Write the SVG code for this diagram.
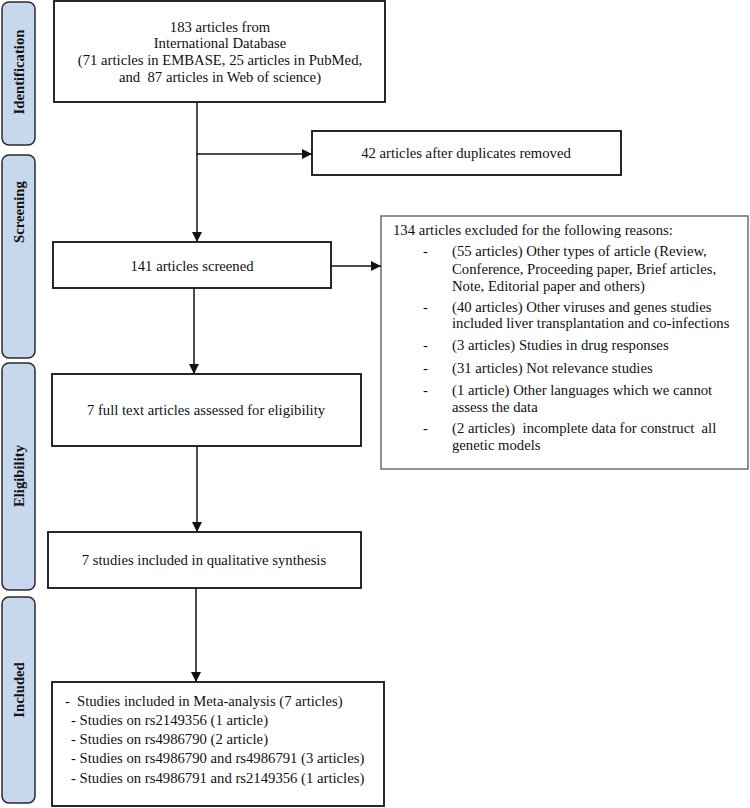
<svg xmlns="http://www.w3.org/2000/svg" width="750" height="808" viewBox="0 0 750 808">
<defs>
<style>
text{font-family:"Liberation Serif","Times New Roman",serif;font-size:14.7px;fill:#111}
.side rect{fill:#c7d7ed;stroke:#2a2a2a;stroke-width:1.5}
.side text{font-weight:bold;text-anchor:middle;dominant-baseline:central}
.box{fill:#fff;stroke:#111;stroke-width:1.8}
.gbox{fill:#fff;stroke:#555;stroke-width:1.3}
.c{text-anchor:middle}
#connectors line{stroke:#111;stroke-width:1.5}
</style>
<marker id="ah" viewBox="0 0 10 10" refX="10" refY="5" markerWidth="10" markerHeight="10" markerUnits="userSpaceOnUse" orient="auto">
<path d="M0,0 L10,5 L0,10 z" fill="#111"/>
</marker>
</defs>
<rect width="750" height="808" fill="#fff"/>

<g id="label-identification" class="side">
<rect x="2" y="2" width="33" height="143" rx="7"/>
<text transform="translate(18.5 72) rotate(-90)">Identification</text>
</g>
<g id="label-screening" class="side">
<rect x="2" y="155" width="33" height="203" rx="7"/>
<text transform="translate(18.5 212) rotate(-90)">Screening</text>
</g>
<g id="label-eligibility" class="side">
<rect x="2" y="363" width="33" height="227" rx="7"/>
<text transform="translate(18.5 476) rotate(-90)">Eligibility</text>
</g>
<g id="label-included" class="side">
<rect x="2" y="597" width="33" height="206" rx="7"/>
<text transform="translate(18.5 690) rotate(-90)">Included</text>
</g>

<g id="node-identified">
<rect class="box" x="54" y="1" width="331" height="101"/>
<text class="c" x="220" y="32">183 articles from</text>
<text class="c" x="220" y="48">International Database</text>
<text class="c" x="220" y="65">(71 articles in EMBASE, 25 articles in PubMed,</text>
<text class="c" x="220" y="82" xml:space="preserve">and  87 articles in Web of science)</text>
</g>

<g id="node-duplicates">
<rect class="box" x="312" y="131" width="309" height="44"/>
<text class="c" x="466" y="158">42 articles after duplicates removed</text>
</g>

<g id="node-screened">
<rect class="box" x="53" y="242" width="278" height="46"/>
<text class="c" x="192" y="271">141 articles screened</text>
</g>

<g id="node-excluded">
<rect class="gbox" x="381" y="216" width="367" height="253"/>
<text x="393" y="235">134 articles excluded for the following reasons:</text>
<text x="423" y="256">-</text>
<text x="452" y="256">(55 articles) Other types of article (Review,</text>
<text x="452" y="274">Conference, Proceeding paper, Brief articles,</text>
<text x="452" y="291">Note, Editorial paper and others)</text>
<text x="423" y="312">-</text>
<text x="452" y="312">(40 articles) Other viruses and genes studies</text>
<text x="452" y="328">included liver transplantation and co-infections</text>
<text x="423" y="350">-</text>
<text x="452" y="350">(3 articles) Studies in drug responses</text>
<text x="423" y="373">-</text>
<text x="452" y="373">(31 articles) Not relevance studies</text>
<text x="423" y="395">-</text>
<text x="452" y="395">(1 article) Other languages which we cannot</text>
<text x="452" y="412">assess the data</text>
<text x="423" y="433">-</text>
<text x="452" y="433" xml:space="preserve">(2 articles)  incomplete data for construct  all</text>
<text x="452" y="450">genetic models</text>
</g>

<g id="node-fulltext">
<rect class="box" x="52" y="374" width="309" height="72"/>
<text class="c" x="206" y="415">7 full text articles assessed for eligibility</text>
</g>

<g id="node-qualitative">
<rect class="box" x="48" y="532" width="313" height="56"/>
<text class="c" x="204" y="565">7 studies included in qualitative synthesis</text>
</g>

<g id="node-meta">
<rect class="box" x="52" y="682" width="332" height="124"/>
<text x="65" y="706">-</text>
<text x="77" y="706">Studies included in Meta-analysis (7 articles)</text>
<text x="71" y="725">- Studies on rs2149356 (1 article)</text>
<text x="71" y="744">- Studies on rs4986790 (2 article)</text>
<text x="71" y="763">- Studies on rs4986790 and rs4986791 (3 articles)</text>
<text x="71" y="783">- Studies on rs4986791 and rs2149356 (1 articles)</text>
</g>

<g id="connectors">
<line x1="197" y1="102" x2="197" y2="242" marker-end="url(#ah)"/>
<line x1="197" y1="154" x2="312" y2="154" marker-end="url(#ah)"/>
<line x1="331" y1="266" x2="381" y2="266" marker-end="url(#ah)"/>
<line x1="194" y1="288" x2="194" y2="374" marker-end="url(#ah)"/>
<line x1="197" y1="446" x2="197" y2="532" marker-end="url(#ah)"/>
<line x1="196" y1="588" x2="196" y2="682" marker-end="url(#ah)"/>
</g>
</svg>
